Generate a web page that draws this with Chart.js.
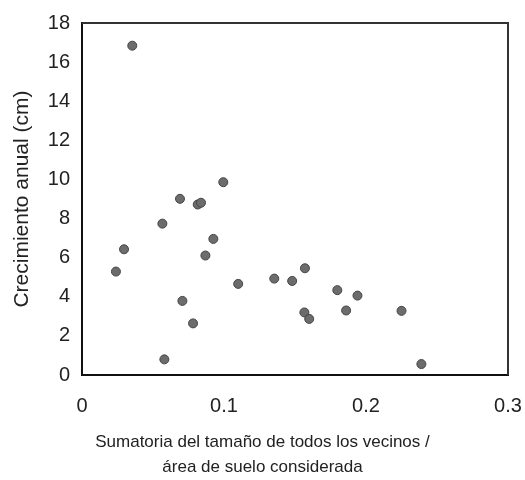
<!DOCTYPE html>
<html>
<head>
<meta charset="utf-8">
<script src="https://cdn.jsdelivr.net/npm/chart.js@4/dist/chart.umd.min.js"></script>
<style>
  body { margin: 0; background: #fff; }
  #wrap { width: 525px; height: 480px; }
</style>
</head>
<body>
<div id="wrap"><canvas id="chart" width="525" height="480"></canvas></div>
<script>
// suma del tamaño de vecinos / área (x) y crecimiento anual en cm (y)
const vecinos = [0.0354, 0.0995, 0.069, 0.0815, 0.0838, 0.0566, 0.0925, 0.0296, 0.0869, 0.0239,
                 0.110, 0.0707, 0.0782, 0.058, 0.157, 0.1354, 0.148, 0.1798, 0.194, 0.1566,
                 0.160, 0.186, 0.225, 0.239];
const crecimiento = [16.84, 9.86, 9.01, 8.72, 8.81, 7.74, 6.96, 6.43, 6.11, 5.29,
                     4.66, 3.79, 2.64, 0.80, 5.46, 4.93, 4.81, 4.34, 4.06, 3.20,
                     2.87, 3.30, 3.28, 0.56];
const xTicks = [0, 0.1, 0.2, 0.3];
const yTicks = [0, 2, 4, 6, 8, 10, 12, 14, 16, 18];

const puntos = vecinos.map((v, i) => ({ x: v, y: crecimiento[i] }));

// marco superior y derecho del área de trazado
const marco = {
    id: 'marco',
    afterDraw(chart) {
        const { ctx, chartArea: a } = chart;
        ctx.save();
        ctx.strokeStyle = '#333';
        ctx.lineWidth = 2;
        ctx.beginPath();
        ctx.moveTo(a.left, a.top);
        ctx.lineTo(a.right, a.top);
        ctx.lineTo(a.right, a.bottom);
        ctx.stroke();
        ctx.restore();
    }
};

const fuente = '"Liberation Sans", Arial, sans-serif';

new Chart(document.getElementById('chart'), {
    type: 'scatter',
    data: {
        datasets: [{
            data: puntos,
            backgroundColor: '#6c6c6c',
            borderColor: '#444',
            borderWidth: 1,
            pointRadius: 4.5
        }]
    },
    options: {
        responsive: false,
        animation: false,
        layout: { padding: { top: 23, right: 0, left: 0, bottom: 0 } },
        plugins: {
            legend: { display: false },
            tooltip: { enabled: false },
            // el título del eje x va centrado en toda la figura
            title: {
                display: true,
                position: 'bottom',
                text: ['Sumatoria del tamaño de todos los vecinos /', 'área de suelo considerada'],
                color: '#222',
                font: { family: fuente, size: 17, weight: 'normal', lineHeight: 1.47 },
                padding: { top: 0, bottom: 0 }
            }
        },
        scales: {
            x: {
                type: 'linear',
                min: 0, max: 0.3,
                afterBuildTicks: s => { s.ticks = xTicks.map(v => ({ value: v })); },
                afterFit: s => { s.height = 55; s.paddingRight = 17; },
                grid: { display: false, drawTicks: true, tickLength: 5, tickColor: '#555' },
                border: { display: true, color: '#111', width: 2 },
                ticks: {
                    color: '#222', padding: 14,
                    font: { family: fuente, size: 20 },
                    callback: v => String(v)
                }
            },
            y: {
                min: 0, max: 18,
                afterBuildTicks: s => { s.ticks = yTicks.map(v => ({ value: v })); },
                afterFit: s => { s.width = 82; },
                grid: { display: false, drawTicks: true, tickLength: 6, tickColor: '#555' },
                border: { display: true, color: '#111', width: 2 },
                ticks: {
                    color: '#222', padding: 6,
                    font: { family: fuente, size: 20 }
                },
                title: {
                    display: true,
                    text: 'Crecimiento anual (cm)',
                    color: '#222',
                    font: { family: fuente, size: 21 },
                    padding: { top: 10, bottom: 0 }
                }
            }
        }
    },
    plugins: [marco]
});
</script>
</body>
</html>
